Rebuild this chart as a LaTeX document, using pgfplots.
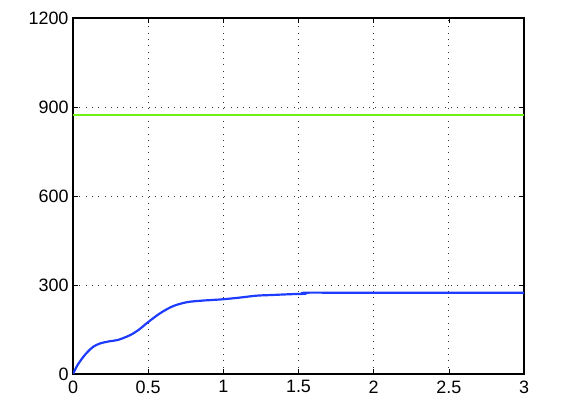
\documentclass[border=0pt]{standalone}
\usepackage{pgfplots}
\pgfplotsset{compat=1.18}
\usetikzlibrary{calc}
\usepackage{fontspec}
\setmainfont{Liberation Sans}
\definecolor{mblue}{RGB}{30, 60, 255}
\definecolor{mgreen}{RGB}{110, 240, 20}

\begin{document}
\begin{tikzpicture}[font=\fontsize{18}{20}\selectfont]
\begin{axis}[
    name=ax,
    scale only axis,
    width=451bp, height=356bp,
    xmin=0, xmax=3, ymin=0, ymax=1200,
    xtick={0,0.5,...,3},
    ytick={0,300,600,900,1200},
    xticklabels={0,0.5,1,1.5,2,2.5,3},
    tick align=inside,
    major tick length=5bp,
    tick style={black, line width=0.6pt},
    grid=major,
    grid style={black!80, line width=0.7pt, dash pattern=on 1bp off 5.3bp},
    axis line style={black, line width=1.2pt},
    /pgf/number format/assume math mode=true,
    /pgf/number format/1000 sep={},
    every tick label/.append style={font=\fontsize{18}{20}\selectfont},
    xticklabel style={yshift=-3bp},
    yticklabel style={xshift=-1bp},
]
\addplot[mgreen, line width=1.8pt] coordinates {(0,873) (3,873)};
\addplot[mblue, line width=2.2pt, smooth] coordinates {
(0,0) (0.03,30) (0.069,58) (0.1,76) (0.135,92) (0.18,103) (0.24,110) (0.30,115)
(0.38,131) (0.44,150) (0.49,171) (0.58,205) (0.667,229) (0.757,242) (0.85,247)
(0.91,249) (1.0,252) (1.1,257) (1.22,264) (1.31,266) (1.4,268) (1.5,270) (1.53,270)
(1.54,274) (1.8,274) (2.2,274) (2.6,274) (3,274)};
\end{axis}
\path[use as bounding box] ($(ax.south west)+(-73bp,-35bp)$) rectangle ($(ax.north east)+(45bp,18bp)$);
\end{tikzpicture}
\end{document}
